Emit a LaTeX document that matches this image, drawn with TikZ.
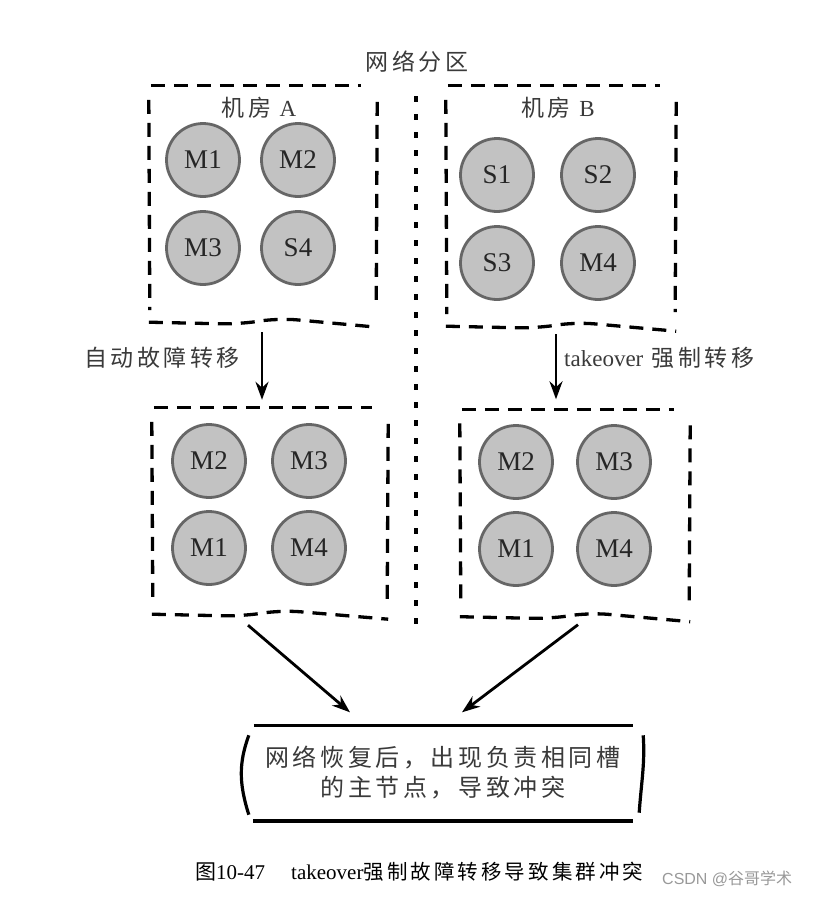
\documentclass[tikz,border=0pt]{standalone}
\usepackage{fontspec}
\setmainfont{Liberation Serif}
\setsansfont{Liberation Sans}
\newfontfamily\cjk{Noto Sans CJK SC}
\newfontfamily\cjks[LetterSpace=15]{Noto Sans CJK SC}
\usetikzlibrary{arrows.meta,calc}
\definecolor{hand}{HTML}{3A3A3A}
\definecolor{nodefill}{HTML}{C2C2C2}
\definecolor{nodeedge}{HTML}{666666}
\newcommand{\mydbox}[1]{%
 \draw[dsh] ($(#1.north west)+(2,0)$) -- ($(#1.north east)+(-16,0)$);
 \draw[dsh] ($(#1.north west)+(0,14)$) -- ($(#1.south west)+(1,-12)$);
 \draw[dsh] ($(#1.north east)+(0,16)$) -- ($(#1.south east)+(-1,-14)$);
 \draw[dsh,rounded corners=18pt] ($(#1.south west)+(0,0)$) -- ($(#1.south west)+(90,2)$) -- ($(#1.south west)+(130,-4)$) -- ($(#1.south east)+(0,5)$);
}
\begin{document}
\begin{tikzpicture}[x=1pt,y=-1pt,
  nd/.style={circle,minimum size=73pt,inner sep=0pt,fill=nodefill,draw=nodeedge,line width=2.8pt,font=\fontsize{27}{27}\selectfont,text=black!85},
  dsh/.style={line width=3.3pt,dash pattern=on 14pt off 9pt,line cap=butt},
  grp/.style={rectangle,inner sep=0pt},
  lbl/.style={font=\cjks\fontsize{23}{28}\selectfont,text=hand,inner sep=0pt},
  arr/.style={line width=2.8pt,-{Stealth[length=18pt,width=13pt]}}
]
\useasboundingbox (0,0) rectangle (814,897);
\fill[white] (0,0) rectangle (814,897);

% title and divider
\node[lbl] (title) at (417,62) {网络分区};
\coordinate (div1) at (416,96);
\coordinate (div2) at (416,628);
\draw[line width=3.4pt,dash pattern=on 6pt off 12pt] (div1) -- (div2);

% group frames
\node[grp,minimum width=228pt,minimum height=236pt] (boxA) at (263,204) {};
\node[grp,minimum width=230pt,minimum height=240pt] (boxB) at (561,206) {};
\node[grp,minimum width=236pt,minimum height=206pt] (boxC) at (270,511) {};
\node[grp,minimum width=230pt,minimum height=207pt] (boxD) at (575,513) {};
\mydbox{boxA}
\mydbox{boxB}
\mydbox{boxC}
\mydbox{boxD}

% room labels
\node[lbl] (labA) at (259,108) {机房 {\rmfamily A}};
\node[lbl] (labB) at (558,108) {机房 {\rmfamily B}};

% room A
\node[nd] (a1) at (203,160) {M1};
\node[nd] (a2) at (298,160) {M2};
\node[nd] (a3) at (203,248) {M3};
\node[nd] (a4) at (298,248) {S4};
% room B
\node[nd] (b1) at (497,175) {S1};
\node[nd] (b2) at (598,175) {S2};
\node[nd] (b3) at (497,263) {S3};
\node[nd] (b4) at (598,263) {M4};
% lower left
\node[nd] (c1) at (209,461) {M2};
\node[nd] (c2) at (309,461) {M3};
\node[nd] (c3) at (209,548) {M1};
\node[nd] (c4) at (309,548) {M4};
% lower right
\node[nd] (d1) at (516,462) {M2};
\node[nd] (d2) at (614,462) {M3};
\node[nd] (d3) at (516,549) {M1};
\node[nd] (d4) at (614,549) {M4};

% vertical arrows
\draw[arr] ($(boxA.south)+(-1,10)$) -- ($(boxA.south |- boxC.north)+(-1,-8)$);
\draw[arr] ($(boxB.south)+(-5,8)$) -- ($(boxB.south |- boxD.north)+(-5,-10)$);
\node[lbl] (fa) at (162,358) {自动故障转移};
\node[lbl,anchor=west] (fb) at (564,358) {{\rmfamily takeover} 强制转移};

% result box
\node[grp,minimum width=388pt,minimum height=95pt,align=center,font=\cjks\fontsize{24}{30}\selectfont,text=hand] (res) at (443,773) {网络恢复后，出现负责相同槽\\的主节点，导致冲突};
\draw[line width=3.2pt] ($(res.north west)+(5,0)$) -- ($(res.north east)+(-4,0)$);
\draw[line width=3.8pt] ($(res.south west)+(4,0)$) -- ($(res.south east)+(-4,0)$);
\draw[line width=3.2pt] ($(res.north west)+(0,10)$) .. controls ($(res.west)+(-10,-10)$) and ($(res.west)+(-10,10)$) .. ($(res.south west)+(0,-6)$);
\draw[line width=3.2pt] ($(res.north east)+(6,10)$) .. controls ($(res.east)+(8,-10)$) and ($(res.east)+(4,10)$) .. ($(res.south east)+(2,-8)$);

% converging arrows
\draw[arr] ($(boxC.south)+(-22,11)$) -- ($(res.north)+(-93,-13)$);
\draw[arr] ($(boxD.south)+(3,8)$) -- ($(res.north)+(19,-13)$);

% caption and watermark
\node[anchor=west,inner sep=0pt,font=\fontsize{21}{24}\selectfont] (cap) at (195,872) {{\cjk 图}10-47\hspace{26pt}takeover{\cjks\fontsize{20.5}{24}\selectfont 强制故障转移导致集群冲突}};
\node[anchor=west,inner sep=0pt,font=\sffamily\fontsize{16}{18}\selectfont,text=black!40] (wm) at (662,879) {CSDN @{\cjk 谷哥学术}};
\end{tikzpicture}
\end{document}
